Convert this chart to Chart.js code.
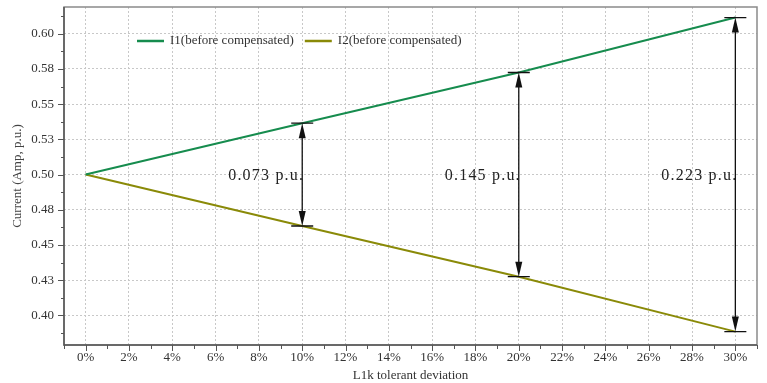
<!DOCTYPE html>
<html>
<head>
<meta charset="utf-8">
<script src="https://cdn.jsdelivr.net/npm/chart.js@4.4.0/dist/chart.umd.min.js"></script>
<style>
  html, body { margin: 0; padding: 0; background: #fff; }
  #wrap { width: 767px; height: 383px; }
</style>
</head>
<body>
<div id="wrap"><canvas id="c" width="767" height="383"></canvas></div>
<script>
const deviation = [0, 10, 20, 30];
const i1Values = [0.5, 0.5365, 0.5725, 0.6115];
const i2Values = [0.5, 0.4635, 0.4275, 0.3885];
const gapLabels = ["0.073 p.u.", "0.145 p.u.", "0.223 p.u."];
const gapAt = [10, 20, 30];
const xTicks = [0, 2, 4, 6, 8, 10, 12, 14, 16, 18, 20, 22, 24, 26, 28, 30];
const yTicks = [0.4, 0.425, 0.45, 0.475, 0.5, 0.525, 0.55, 0.575, 0.6];
const yTickLabels = ["0.40", "0.43", "0.45", "0.48", "0.50", "0.53", "0.55", "0.58", "0.60"];

const serif = "'Liberation Serif', 'DejaVu Serif', serif";
const green = "rgb(22,140,78)";
const olive = "rgb(138,138,8)";

const ctx = document.getElementById("c").getContext("2d");

const decorations = {
  id: "decorations",
  beforeDatasetsDraw(chart) {
    const { ctx, chartArea: a, scales: { x, y } } = chart;
    ctx.save();
    // frame
    ctx.strokeStyle = "#8a8a8a";
    ctx.lineWidth = 1.5;
    ctx.strokeRect(a.left, a.top, a.right - a.left, a.bottom - a.top);
    ctx.strokeStyle = "#555";
    ctx.beginPath();
    ctx.moveTo(a.left, a.top);
    ctx.lineTo(a.left, a.bottom);
    ctx.lineTo(a.right, a.bottom);
    ctx.stroke();
    // x ticks, major + minor
    ctx.lineWidth = 1;
    ctx.beginPath();
    for (let v = -1; v <= 31; v++) {
      const px = Math.round(x.getPixelForValue(v)) + 0.5;
      const len = v % 2 === 0 ? 6 : 4;
      ctx.moveTo(px, a.bottom);
      ctx.lineTo(px, a.bottom + len);
    }
    // y ticks
    for (let k = 0; k <= 18; k++) {
      const v = 0.3875 + k * 0.0125;
      if (v > y.max) break;
      const py = Math.round(y.getPixelForValue(v)) + 0.5;
      const len = k % 2 === 1 ? 6 : 3;
      ctx.moveTo(a.left, py);
      ctx.lineTo(a.left - len, py);
    }
    ctx.stroke();
    ctx.restore();
  },
  afterDatasetsDraw(chart) {
    const { ctx, chartArea: a, scales: { x, y } } = chart;
    ctx.save();
    // gap arrows
    gapAt.forEach((g, i) => {
      const idx = deviation.indexOf(g);
      const px = x.getPixelForValue(g);
      const top = y.getPixelForValue(i1Values[idx]);
      const bot = y.getPixelForValue(i2Values[idx]);
      ctx.strokeStyle = "#111";
      ctx.fillStyle = "#111";
      ctx.lineWidth = 1.3;
      ctx.beginPath();
      ctx.moveTo(px - 11, top); ctx.lineTo(px + 11, top);
      ctx.moveTo(px - 11, bot); ctx.lineTo(px + 11, bot);
      ctx.moveTo(px, top + 10); ctx.lineTo(px, bot - 10);
      ctx.stroke();
      ctx.beginPath();
      ctx.moveTo(px, top); ctx.lineTo(px - 3.5, top + 15); ctx.lineTo(px + 3.5, top + 15);
      ctx.closePath(); ctx.fill();
      ctx.beginPath();
      ctx.moveTo(px, bot); ctx.lineTo(px - 3.5, bot - 15); ctx.lineTo(px + 3.5, bot - 15);
      ctx.closePath(); ctx.fill();
      ctx.font = "16px " + serif;
      ctx.letterSpacing = "1.2px";
      ctx.textAlign = "right";
      ctx.textBaseline = "middle";
      ctx.fillStyle = "#222";
      ctx.fillText(gapLabels[i], px + 2, y.getPixelForValue(0.5) + 1);
    });
    // legend inside plot
    ctx.letterSpacing = "0px";
    ctx.font = "13px " + serif;
    ctx.textAlign = "left";
    ctx.textBaseline = "middle";
    let lx = a.left + 73;
    const ly = a.top + 34;
    chart.data.datasets.forEach((ds) => {
      ctx.strokeStyle = ds.borderColor;
      ctx.lineWidth = 2.5;
      ctx.beginPath();
      ctx.moveTo(lx, ly); ctx.lineTo(lx + 27, ly);
      ctx.stroke();
      ctx.fillStyle = "#333";
      ctx.fillText(ds.label, lx + 33, ly);
      lx += 33 + ctx.measureText(ds.label).width + 11;
    });
    ctx.restore();
  },
};

new Chart(ctx, {
  type: "line",
  data: {
    labels: deviation,
    datasets: [
      {
        label: "I1(before compensated)",
        data: deviation.map((d, i) => ({ x: d, y: i1Values[i] })),
        borderColor: green,
        backgroundColor: green,
        borderWidth: 2,
        pointRadius: 0,
        tension: 0,
      },
      {
        label: "I2(before compensated)",
        data: deviation.map((d, i) => ({ x: d, y: i2Values[i] })),
        borderColor: olive,
        backgroundColor: olive,
        borderWidth: 2,
        pointRadius: 0,
        tension: 0,
      },
    ],
  },
  options: {
    responsive: false,
    animation: false,
    layout: { padding: { top: 7, right: 10, left: 0, bottom: 0 } },
    plugins: {
      legend: { display: false },
      tooltip: { enabled: false },
    },
    scales: {
      x: {
        type: "linear",
        min: -1,
        max: 31,
        afterBuildTicks: (s) => { s.ticks = xTicks.map((v) => ({ value: v })); },
        afterFit: (s) => { s.height = 38; s.paddingLeft = 0; s.paddingRight = 0; },
        grid: { color: "#c8c8c8", drawTicks: false, lineWidth: 1 },
        border: { display: false, dash: [2, 2] },
        ticks: {
          padding: 5,
          color: "#333",
          font: { family: serif, size: 13 },
          maxRotation: 0,
          callback: (v) => v + "%",
        },
        title: {
          display: true,
          text: "L1k tolerant deviation",
          color: "#333",
          font: { family: serif, size: 13 },
          padding: { top: 0, bottom: 0 },
        },
      },
      y: {
        min: 0.379,
        max: 0.619,
        afterBuildTicks: (s) => { s.ticks = yTicks.map((v) => ({ value: v })); },
        afterFit: (s) => { s.width = 64; s.paddingTop = 0; s.paddingBottom = 0; },
        grid: { color: "#c8c8c8", drawTicks: false, lineWidth: 1 },
        border: { display: false, dash: [2, 2] },
        ticks: {
          padding: 10,
          color: "#333",
          font: { family: serif, size: 13 },
          callback: (v) => yTickLabels[yTicks.indexOf(v)],
        },
        title: {
          display: true,
          text: "Current (Amp, p.u.)",
          color: "#444",
          font: { family: serif, size: 13 },
          padding: { top: 10, bottom: 0 },
        },
      },
    },
  },
  plugins: [decorations],
});
</script>
</body>
</html>
